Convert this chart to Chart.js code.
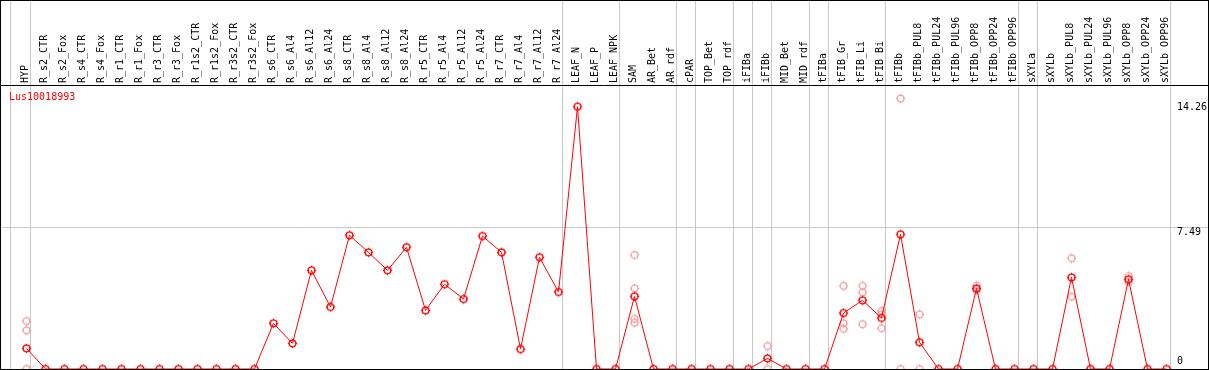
<!DOCTYPE html>
<html><head><meta charset="utf-8">
<script src="https://cdn.jsdelivr.net/npm/chart.js@4/dist/chart.umd.min.js"></script>
<style>html,body{margin:0;padding:0;background:#fff;overflow:hidden}#wrap{width:1209px;height:370px;position:relative}</style>
</head><body><div id="wrap"><canvas id="c"></canvas></div>
<script>
const categories = ['HYP','R_s2_CTR','R_s2_Fox','R_s4_CTR','R_s4_Fox','R_r1_CTR','R_r1_Fox','R_r3_CTR','R_r3_Fox','R_r1s2_CTR','R_r1s2_Fox','R_r3s2_CTR','R_r3s2_Fox','R_s6_CTR','R_s6_Al4','R_s6_Al12','R_s6_Al24','R_s8_CTR','R_s8_Al4','R_s8_Al12','R_s8_Al24','R_r5_CTR','R_r5_Al4','R_r5_Al12','R_r5_Al24','R_r7_CTR','R_r7_Al4','R_r7_Al12','R_r7_Al24','LEAF_N','LEAF_P','LEAF_NPK','SAM','AR_Bet','AR_rdf','cPAR','TOP_Bet','TOP_rdf','iFIBa','iFIBb','MID_Bet','MID_rdf','tFIBa','tFIB_Gr','tFIB_Li','tFIB_Bi','tFIBb','tFIBb_PUL8','tFIBb_PUL24','tFIBb_PUL96','tFIBb_OPP8','tFIBb_OPP24','tFIBb_OPP96','sXYLa','sXYLb','sXYLb_PUL8','sXYLb_PUL24','sXYLb_PUL96','sXYLb_OPP8','sXYLb_OPP24','sXYLb_OPP96'];
const meanValues = [1.09, 0,0,0,0,0,0,0,0,0,0,0,0, 2.41,1.35,5.20,3.27, 7.05,6.15,5.20,6.42, 3.09,4.47,3.69,7.01, 6.15,1.05,5.89,4.06, 13.83,0,0, 3.83,0,0, 0, 0,0, 0, 0.56, 0,0, 0, 2.95,3.62,2.69, 7.10,1.41,0,0,4.25,0,0, 0, 0,4.83,0,0,4.73,0,0];
const replicateCategory = [0,0,0, 32,32,32,32, 39,39, 43,43,43, 44,44,44, 45,45,45, 46,46, 47,47, 50,50, 55,55, 58,58];
const replicateValue = [2.53,2.04,0, 6.01,4.25,2.64,2.44, 1.21,0, 4.38,2.41,2.12, 4.38,4.04,2.36, 3.06,2.88,2.15, 14.26,0, 2.88,0, 4.39,4.16, 5.84,3.81, 4.90,4.60];
const groupEnds = [0, 28, 31, 34, 35, 37, 38, 39, 41, 42, 45, 52, 53, 60];
const geneName = 'Lus10018993';
const maxValue = Math.max(...replicateValue, ...meanValues);
const yMax = maxValue * 1.05;
const rightLabels = [maxValue.toFixed(2), (yMax / 2).toFixed(2), '0'];
const rightLabelValues = [maxValue, yMax / 2, 0];

const MONO = '"DejaVu Sans Mono", "Liberation Mono", monospace';

function zeroPad(s) { s.paddingLeft = 0; s.paddingRight = 0; s.paddingTop = 0; s.paddingBottom = 0; }

function makeMarker(color, lw) {
  const c = document.createElement('canvas');
  c.width = 11; c.height = 11;
  const g = c.getContext('2d');
  g.strokeStyle = color;
  g.lineWidth = lw;
  g.beginPath(); g.arc(5.5, 5.5, 3.4, 0, Math.PI * 2); g.stroke();
  g.lineWidth = 1;
  g.beginPath();
  g.moveTo(5.5, 0.8); g.lineTo(5.5, 2.4);
  g.moveTo(5.5, 8.6); g.lineTo(5.5, 10.2);
  g.moveTo(0.8, 5.5); g.lineTo(2.4, 5.5);
  g.moveTo(8.6, 5.5); g.lineTo(10.2, 5.5);
  g.stroke();
  return c;
}
const meanMarker = makeMarker('#ff0000', 1.4);
const repMarker = makeMarker('#f0a0a0', 1.3);

const decor = {
  id: 'decor',
  beforeDatasetsDraw(chart) {
    const ctx = chart.ctx, xs = chart.scales.x, ca = chart.chartArea;
    ctx.save();
    ctx.strokeStyle = '#c8c8c8';
    ctx.lineWidth = 1;
    const pos = [-0.85].concat(groupEnds.map(e => e + 0.2));
    pos.forEach(v => {
      const x = Math.floor(xs.getPixelForValue(v)) + 0.5;
      ctx.beginPath(); ctx.moveTo(x, 0); ctx.lineTo(x, ca.bottom); ctx.stroke();
    });
    ctx.restore();
  },
  afterDraw(chart) {
    const ctx = chart.ctx, ys = chart.scales.y;
    ctx.save();
    ctx.strokeStyle = '#000';
    ctx.lineWidth = 1;
    ctx.strokeRect(0.5, 0.5, 1208, 369);
    ctx.beginPath(); ctx.moveTo(0, 85.5); ctx.lineTo(1209, 85.5); ctx.stroke();
    ctx.font = '10px ' + MONO;
    ctx.textBaseline = 'middle';
    ctx.textAlign = 'left';
    ctx.fillStyle = '#ff0000';
    ctx.fillText(geneName, 9, 97);
    ctx.fillStyle = '#000';
    const offs = [9, 5.5, -7.5];
    rightLabels.forEach((t, i) => {
      ctx.fillText(t, 1177, ys.getPixelForValue(rightLabelValues[i]) + offs[i]);
    });
    ctx.restore();
  }
};

new Chart(document.getElementById('c'), {
  data: {
    datasets: [
      {
        type: 'line',
        data: meanValues.map((v, i) => ({x: i, y: v})),
        borderColor: '#ff0000',
        borderWidth: 1,
        tension: 0,
        pointStyle: meanMarker,
        pointRadius: 4.5
      },
      {
        type: 'scatter',
        data: replicateValue.map((v, i) => ({x: replicateCategory[i], y: v})),
        pointStyle: repMarker,
        pointRadius: 4.5
      }
    ]
  },
  options: {
    responsive: true,
    maintainAspectRatio: false,
    animation: false,
    devicePixelRatio: 1,
    layout: {autoPadding: false, padding: {left: 1, right: 1, top: 0, bottom: 1}},
    plugins: {legend: {display: false}, tooltip: {enabled: false}},
    scales: {
      x: {
        type: 'linear',
        position: 'top',
        min: -1.342,
        max: 62.184,
        afterBuildTicks: s => { s.ticks = categories.map((_, i) => ({value: i})); },
        afterFit: s => { s.height = 85; zeroPad(s); },
        ticks: {
          autoSkip: false,
          minRotation: 90,
          maxRotation: 90,
          padding: 2,
          labelOffset: 10.5,
          color: '#000',
          font: {family: MONO, size: 10},
          callback: v => categories[Math.round(v)]
        },
        grid: {display: false, drawTicks: false},
        border: {display: false}
      },
      y: {
        type: 'linear',
        position: 'left',
        min: 0,
        max: yMax,
        afterBuildTicks: s => { s.ticks = [{value: yMax / 2}]; },
        afterFit: s => { s.width = 0; zeroPad(s); },
        ticks: {display: false},
        grid: {color: '#c8c8c8', lineWidth: 1, drawTicks: false},
        border: {display: false}
      }
    }
  },
  plugins: [decor]
});
</script>
</body></html>
